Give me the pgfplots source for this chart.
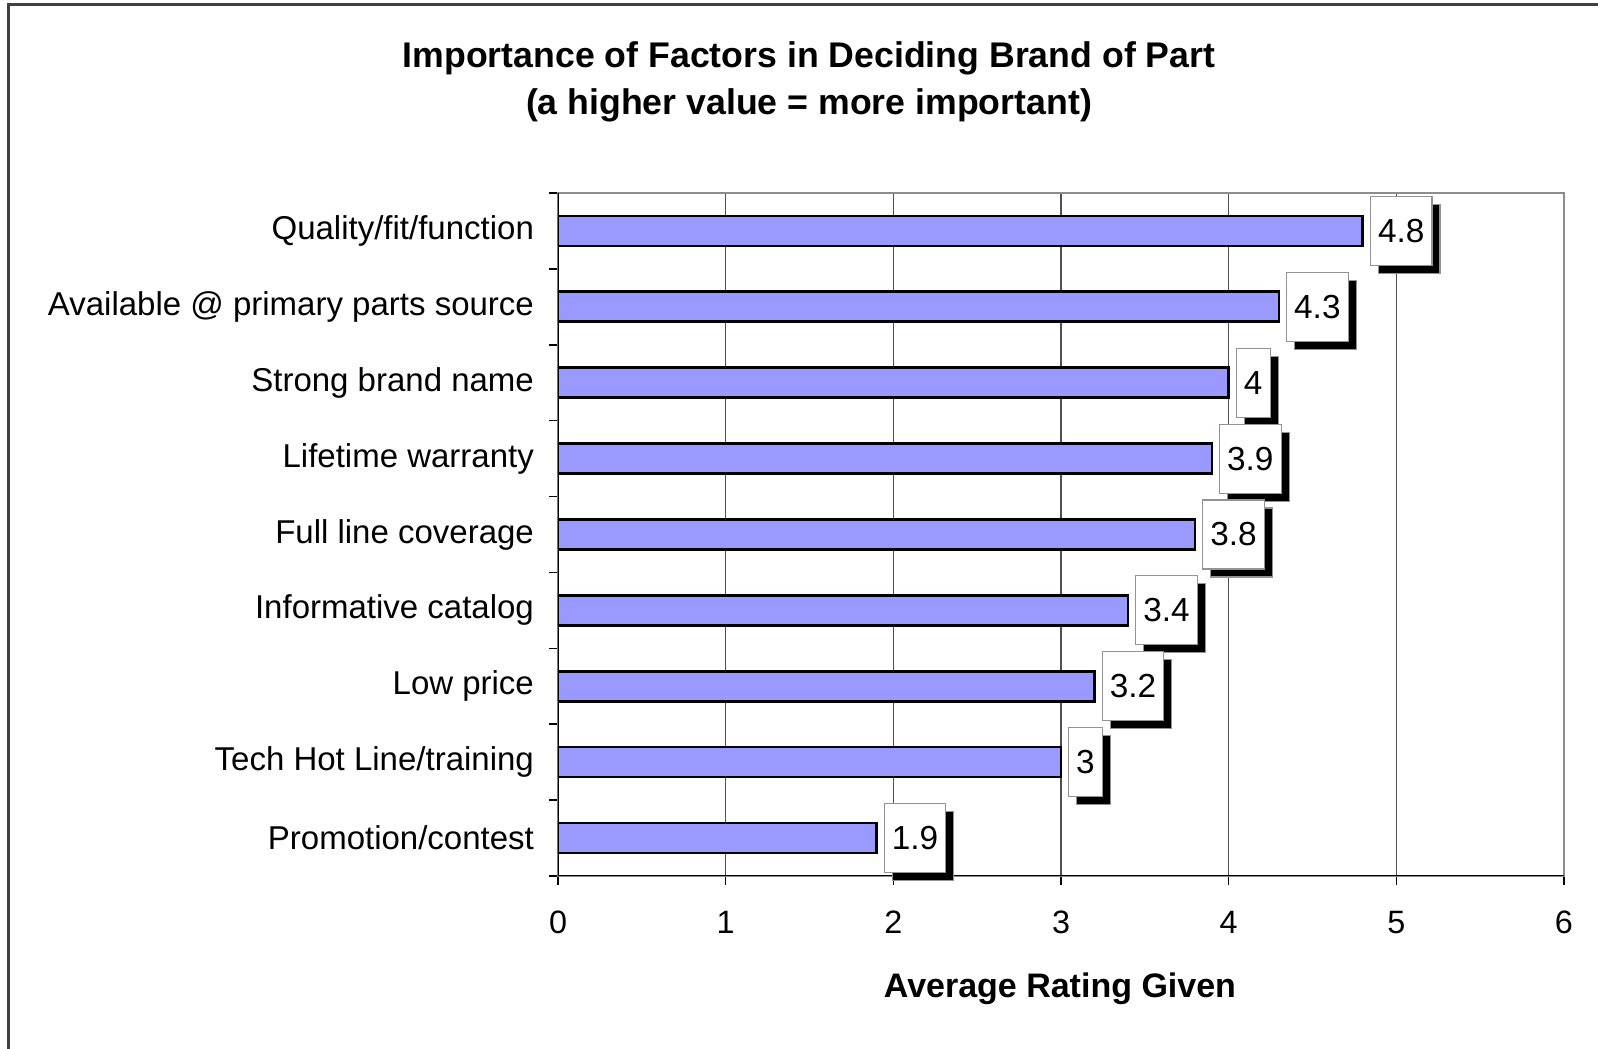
\documentclass[border=0pt]{standalone}
\usepackage{fontspec}
\setmainfont{Liberation Sans}
\usepackage{pgfplots}
\pgfplotsset{compat=1.18}
\usepackage{pgfplotstable}
\usetikzlibrary{shadows}

\definecolor{barfill}{HTML}{9999FF}
\definecolor{framegray}{HTML}{404040}
\definecolor{plotborder}{HTML}{8C8C8C}
\definecolor{gridgray}{HTML}{505050}

% average rating per factor (row 0 is drawn at the top)
\pgfplotstableread{
idx rating
0 4.8
1 4.3
2 4.0
3 3.9
4 3.8
5 3.4
6 3.2
7 3.0
8 1.9
}\ratings

\begin{document}
\begin{tikzpicture}
\useasboundingbox (0,0) rectangle (479.4pt,-314.7pt);
% outer chart frame (left and top edges)
\draw[framegray, line width=0.9pt] (2.4pt,-330pt) -- (2.4pt,-1.5pt) -- (490pt,-1.5pt);

\node[anchor=base, font=\bfseries\fontsize{10.7pt}{12pt}\selectfont] at (242.7pt,-20.4pt)
  {Importance of Factors in Deciding Brand of Part};
\node[anchor=base, font=\bfseries\fontsize{10.7pt}{12pt}\selectfont] at (242.7pt,-34.5pt)
  {(a higher value = more important)};

\begin{axis}[
  at={(167.4pt,-57.9pt)}, anchor=north west,
  scale only axis, width=301.8pt, height=204.9pt,
  xbar, bar width=9pt,
  xmin=0, xmax=6, ymin=-0.5, ymax=8.5, y dir=reverse,
  /pgf/number format/assume math mode=true,
  xtick={0,...,6}, xtick pos=left, ytick pos=left,
  tick align=outside, major tick length=2.7pt,
  ytick={-0.5,0.5,...,8.5}, yticklabels={},
  extra y ticks={0,...,8},
  extra y tick labels={Quality/fit/function,
    Available @ primary parts source,
    Strong brand name,
    Lifetime warranty,
    Full line coverage,
    Informative catalog,
    Low price,
    Tech Hot Line/training,
    Promotion/contest},
  extra y tick style={major tick length=0pt,
    yticklabel style={xshift=-3.7pt, font=\fontsize{9.9pt}{11pt}\selectfont}},
  xticklabel style={yshift=-4.2pt},
  tick label style={font=\fontsize{9.7pt}{11pt}\selectfont},
  xmajorgrids,
  major grid style={gridgray, line width=0.35pt},
  axis line style={plotborder, line width=0.7pt},
  tick style={black, line width=0.45pt},
  nodes near coords,
  nodes near coords style={anchor=west, xshift=2.1pt,
    font=\fontsize{10pt}{12pt}\selectfont,
    fill=white, draw=gray!85, line width=0.35pt,
    inner xsep=2.3pt, inner ysep=0pt, minimum height=20.7pt,
    drop shadow={shadow xshift=2.4pt, shadow yshift=-2.4pt,
      fill=black, opacity=1}},
]
\addplot[fill=barfill, draw=black, line width=0.8pt] table[x=rating, y=idx] {\ratings};
\draw[black, line width=0.5pt] (axis cs:0,-0.5) -- (axis cs:0,8.5) -- (axis cs:6,8.5);
\end{axis}

\node[anchor=base, font=\bfseries\fontsize{10.2pt}{12pt}\selectfont] at (318pt,-299.4pt)
  {Average Rating Given};
\end{tikzpicture}
\end{document}
